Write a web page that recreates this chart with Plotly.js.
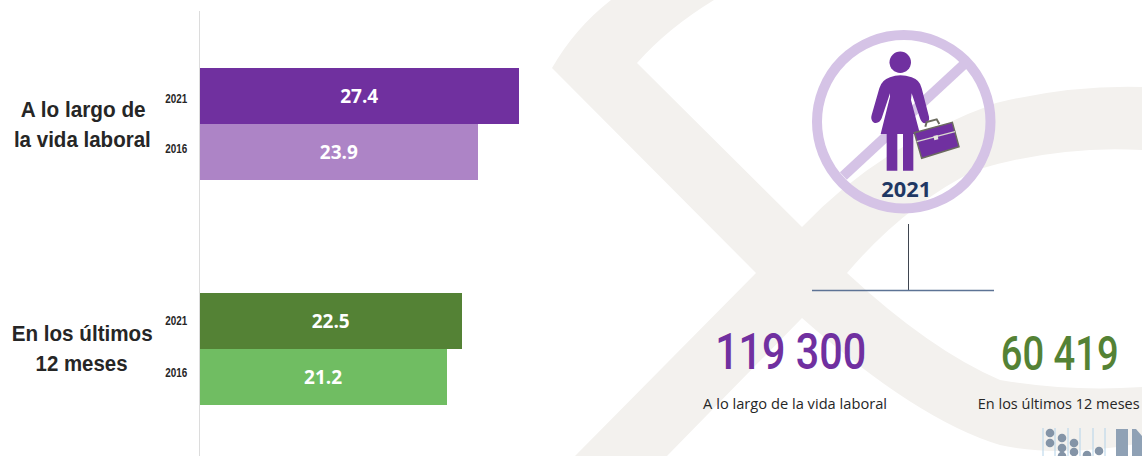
<!DOCTYPE html>
<html><head><meta charset="utf-8">
<script src="https://cdn.plot.ly/plotly-3.0.1.min.js"></script>
<style>html,body{margin:0;padding:0;background:#fff}#c{width:1142px;height:456px}</style>
</head><body><div id="c"></div>
<script>
// ---- data ----
const categories = ["Vida laboral 2021","Vida laboral 2016","Últimos 12 meses 2021","Últimos 12 meses 2016"];
const values = [27.4,23.9,22.5,21.2];
const years = ["2021","2016","2021","2016"];
const barColors = ["#70309f","#ad84c6","#548235","#70bd62"];
const categoryOrder = [categories[0],categories[1],"gap 1","gap 2",categories[2],categories[3]];
const groupLabels = ["A lo largo de","la vida laboral","En los últimos","12 meses"];
const bigNumbers = ["119 300","60 419"];
const bigCaptions = ["A lo largo de la vida laboral","En los últimos 12 meses"];
const iconYear = "2021";

// ---- helpers: page pixels to paper coordinates ----
const W=1142,H=456;
const px=x=>x/W, py=y=>1-y/H;
function path(d,ox=0,oy=0,s=1){
  return d.replace(/(-?[\d.]+)\s+(-?[\d.]+)/g,(m,a,b)=>px(ox+(+a)*s)+' '+py(oy+(+b)*s));
}
const shapes=[];
function pathShape(d,fill,opts={}){
  shapes.push(Object.assign({type:'path',xref:'paper',yref:'paper',path:d,fillcolor:fill,line:{width:0},layer:'below'},opts));
}
// ---- background mark ----
const beige="#f3f1ee";
pathShape(path("M540 0 L1142 0 L1142 456 L540 456 Z"),beige);
pathShape(path("M500 0 L611 0 Q575 28 552 68 L756 273 L575 456 L500 456 Z"),"#ffffff");
pathShape(path("M714 0 Q668 28 637 63 L802 227 Q880 145 996 103 Q1070 85 1142 87 L1142 0 Z"),"#ffffff");
pathShape(path("M847 273 Q905 205 976 170 Q1060 145 1142 150 L1142 387 Q1070 392 1000 380 Q930 350 847 273 Z"),"#ffffff");
pathShape(path("M802 318 L667 456 L1142 456 L1142 443 Q1060 458 1000 445 Q917 420 802 318 Z"),"#ffffff");

// ---- icon ----
const ringC="#d5c3e6", purple="#7030a0";
const Z=d=>path(d,780,0,1/3);
pathShape(Z("M190 528 L555 190"),"rgba(0,0,0,0)",{line:{color:ringC,width:10},layer:'above'});
shapes.push({type:'circle',xref:'paper',yref:'paper',x0:px(817),x1:px(990.5),y0:py(35),y1:py(208.5),
  line:{color:ringC,width:10},fillcolor:'rgba(0,0,0,0)',layer:'above'});
shapes.push({type:'circle',xref:'paper',yref:'paper',x0:px(889.5),x1:px(911),y0:py(51.5),y1:py(73),
  line:{width:0},fillcolor:purple,layer:'above'});
pathShape(Z("M330 232 Q360 220 395 232 Q420 240 425 265 L447 350 Q450 368 435 370 Q425 370 420 355 L395 280 L393 300 L420 402 L400 402 L400 512 L369 512 L369 402 L352 402 L352 512 L320 512 L320 402 L302 402 L330 290 L330 280 L305 355 Q298 372 282 368 Q270 360 275 345 L298 265 Q305 240 330 232 Z"),purple,{layer:'above'});
pathShape(Z("M436 380 L440 366 L470 358 L478 372"),"rgba(0,0,0,0)",{line:{color:"#6b6b5f",width:2},layer:'above'});
pathShape(Z("M403 398 L517 367 L537 440 L425 475 Z"),purple,{line:{color:"#6b6b5f",width:1.5},layer:'above'});
pathShape(Z("M410 425 L525 395"),"rgba(0,0,0,0)",{line:{color:"#d9d9cf",width:1.2},layer:'above'});
pathShape(Z("M460 408 L473 405 L475 418 L463 421 Z"),"#e6e6dc",{layer:'above'});

// ---- connector ----
pathShape(path("M908.5 224 L908.5 290"),"rgba(0,0,0,0)",{line:{color:"#3f4550",width:1},layer:'above'});
pathShape(path("M812 290.5 L994 290.5"),"rgba(0,0,0,0)",{line:{color:"#5d7395",width:1.6},layer:'above'});

// ---- logo, cut by the page edge ----
[1043,1055,1068,1080,1093,1105].forEach(x=>pathShape(path(`M${x} 428 L${x} 456`),"rgba(0,0,0,0)",{line:{color:"#b4d3e9",width:1},layer:'above'}));
[[1050,433],[1050,443],[1062,438],[1062,448],[1062,456],[1074,443],[1074,452],[1087,455],[1099,451]].forEach(([x,y])=>
  shapes.push({type:'circle',xref:'paper',yref:'paper',x0:px(x-4.3),x1:px(x+4.3),y0:py(y-4.3),y1:py(y+4.3),line:{width:0},fillcolor:"#8494a7",layer:'above'}));
pathShape(path("M1116 429 L1128 429 L1128 456 L1116 456 Z"),"#8fa1b5",{layer:'above'});
pathShape(path("M1132 429 L1136 429 L1142 436 L1142 456 L1132 456 Z"),"#8fa1b5",{layer:'above'});

// ---- text ----
const ann=[], fit=[];
const note=(text,x,y,size,color,family,weight,len)=>{fit.push(len);ann.push({xref:'paper',yref:'paper',x:px(x),y:py(y),
  xanchor:'center',yanchor:'middle',text,showarrow:false,font:{size,color,family,weight}});};
const yearShift=[-2.5,3.5,-0.5,4];
years.forEach((t,i)=>{fit.push(22);ann.push({xref:'paper',yref:'y',x:px(176),y:categories[i],xanchor:'center',yanchor:'middle',yshift:yearShift[i],
  text:t,showarrow:false,font:{size:12,color:'#262626',family:'Liberation Sans',weight:700}});});
const labelPos=[[82.5,109,125],[82.5,139,137],[81.5,333,141],[82,363,92]];
groupLabels.forEach((t,i)=>note(t,labelPos[i][0],labelPos[i][1],22,'#262626','Liberation Sans',700,labelPos[i][2]));
note(iconYear,906,188,22,'#1f3864','Noto Sans',700,50);
note(bigNumbers[0],790.5,352.5,49,purple,'Roboto',500,151);
note(bigNumbers[1],1059,353,49,'#548235','Roboto',500,118);
note(bigCaptions[0],795,403,15,'#262626','Open Sans',400,184);
note(bigCaptions[1],1058,403,15,'#262626','Open Sans',400,162);

const trace={type:'bar',orientation:'h',x:values,y:categories,width:1,
  marker:{color:barColors,line:{width:0}},text:values.map(v=>v.toFixed(1)),textposition:'inside',insidetextanchor:'middle',
  textangle:0,textfont:{family:'Open Sans',size:19,color:'#ffffff',weight:700},hoverinfo:'skip',cliponaxis:false};

Plotly.newPlot('c',[trace],{
  width:W,height:H,margin:{l:0,r:0,t:0,b:0,pad:0},showlegend:false,
  paper_bgcolor:'#ffffff',plot_bgcolor:'rgba(0,0,0,0)',
  xaxis:{domain:[px(199.6),px(560)],range:[0,30.93],visible:false,fixedrange:true},
  yaxis:{domain:[0,py(11)],type:'category',categoryorder:'array',categoryarray:categoryOrder,range:[6.408,-1.515],
    showticklabels:false,ticks:'',showgrid:false,zeroline:false,showline:true,linecolor:'#dcdcdc',linewidth:1,layer:'below traces',fixedrange:true},
  shapes,annotations:ann,bargap:0
},{displayModeBar:false,staticPlot:true}).then(()=>{
  // narrow the glyphs horizontally around each text's centre to get the reference's condensed lettering
  document.querySelectorAll('.annotation').forEach(g=>{
    const i=+g.getAttribute('data-index'), t=g.querySelector('text.annotation-text');
    if(!t||!fit[i])return;
    const cx=parseFloat(t.getAttribute('x'))||0, sx=fit[i]/t.getComputedTextLength();
    t.setAttribute('transform',`translate(${cx} 0) scale(${sx} 1) translate(${-cx} 0)`);
  });
});
</script></body></html>
